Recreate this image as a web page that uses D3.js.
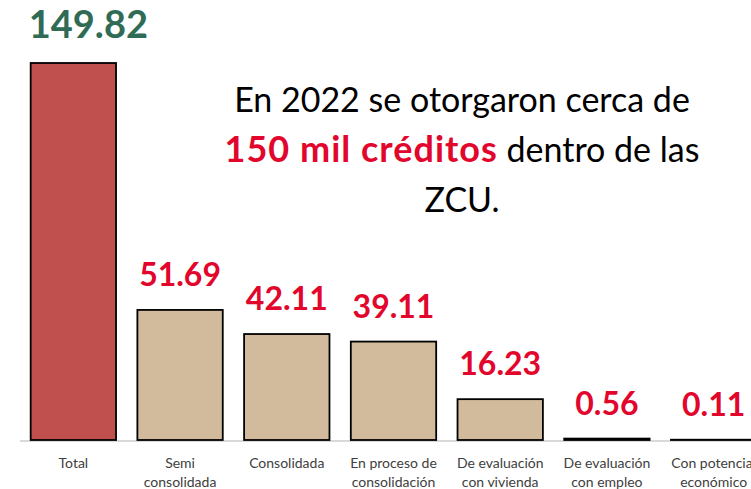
<!DOCTYPE html>
<html>
<head>
<meta charset="utf-8">
<script src="https://cdn.jsdelivr.net/npm/d3@7"></script>
<style>
  html, body { margin: 0; padding: 0; background: #fff; overflow: hidden; }
  svg { display: block; font-family: Lato, "Open Sans", sans-serif; }
</style>
</head>
<body>
<svg id="chart" width="751" height="489"></svg>
<script>
const categories = ["Total", "Semi consolidada", "Consolidada", "En proceso de consolidación", "De evaluación con vivienda", "De evaluación con empleo", "Con potencial económico"];
const categoryLines = [["Total"], ["Semi", "consolidada"], ["Consolidada"], ["En proceso de", "consolidación"], ["De evaluación", "con vivienda"], ["De evaluación", "con empleo"], ["Con potencial", "económico"]];
const values = [149.82, 51.69, 42.11, 39.11, 16.23, 0.56, 0.11];
const valueLabels = ["149.82", "51.69", "42.11", "39.11", "16.23", "0.56", "0.11"];
const annotationLines = [
  [{t: "En 2022 se otorgaron cerca de", bold: false}],
  [{t: "150 mil créditos", bold: true}, {t: " dentro de las", bold: false}],
  [{t: "ZCU.", bold: false}]
];

const svg = d3.select("#chart");
const baseY = 440;

const x = d3.scaleBand().domain(categories).range([20, 767]).paddingInner(0.2).paddingOuter(0.1);
const y = d3.scaleLinear().domain([0, 149.82]).range([baseY, 63]);

// baseline axis
svg.append("line")
  .attr("x1", 20).attr("x2", 751)
  .attr("y1", baseY + 1).attr("y2", baseY + 1)
  .attr("stroke", "#d9d9d9").attr("stroke-width", 2);

// bars
svg.selectAll("rect.bar").data(values).enter().append("rect")
  .attr("class", "bar")
  .attr("x", (d, i) => x(categories[i]))
  .attr("width", x.bandwidth())
  .attr("y", d => y(d))
  .attr("height", d => baseY - y(d))
  .attr("fill", (d, i) => i === 0 ? "#c0504d" : "#d2bb9c")
  .attr("stroke", "#000")
  .attr("stroke-width", 1.8);

// value labels
svg.selectAll("text.val").data(values).enter().append("text")
  .attr("class", "val")
  .attr("x", (d, i) => x(categories[i]) + x.bandwidth() / 2 + (i === 0 ? 15 : 0))
  .attr("y", (d, i) => y(d) - (i === 0 ? 25 : 24))
  .attr("text-anchor", "middle")
  .attr("font-weight", 700)
  .attr("font-size", (d, i) => i === 0 ? 38 : 32)
  .attr("fill", (d, i) => i === 0 ? "#2f6b55" : "#e2062c")
  .text((d, i) => valueLabels[i]);

// category labels
const cat = svg.selectAll("text.cat").data(categoryLines).enter().append("text")
  .attr("class", "cat")
  .attr("text-anchor", "middle")
  .attr("font-size", 14)
  .attr("fill", "#404040");
cat.each(function(lines, i) {
  const cx = x(categories[i]) + x.bandwidth() / 2;
  d3.select(this).selectAll("tspan").data(lines).enter().append("tspan")
    .attr("x", cx)
    .attr("y", (l, j) => 468 + j * 19)
    .text(l => l);
});

// annotation
const ann = svg.append("text")
  .attr("text-anchor", "middle")
  .attr("font-size", 34)
  .attr("fill", "#000");
annotationLines.forEach((parts, j) => {
  const t = ann.append("tspan").attr("x", 462).attr("y", 112 + j * 50);
  parts.forEach((p, k) => {
    const s = k === 0 ? t : ann.append("tspan");
    s.text(p.t)
      .attr("font-weight", p.bold ? 700 : 400)
      .attr("font-size", p.bold ? 36 : 34)
      .attr("letter-spacing", p.bold ? 1 : 0)
      .attr("fill", p.bold ? "#e2062c" : "#000");
  });
});
</script>
</body>
</html>
